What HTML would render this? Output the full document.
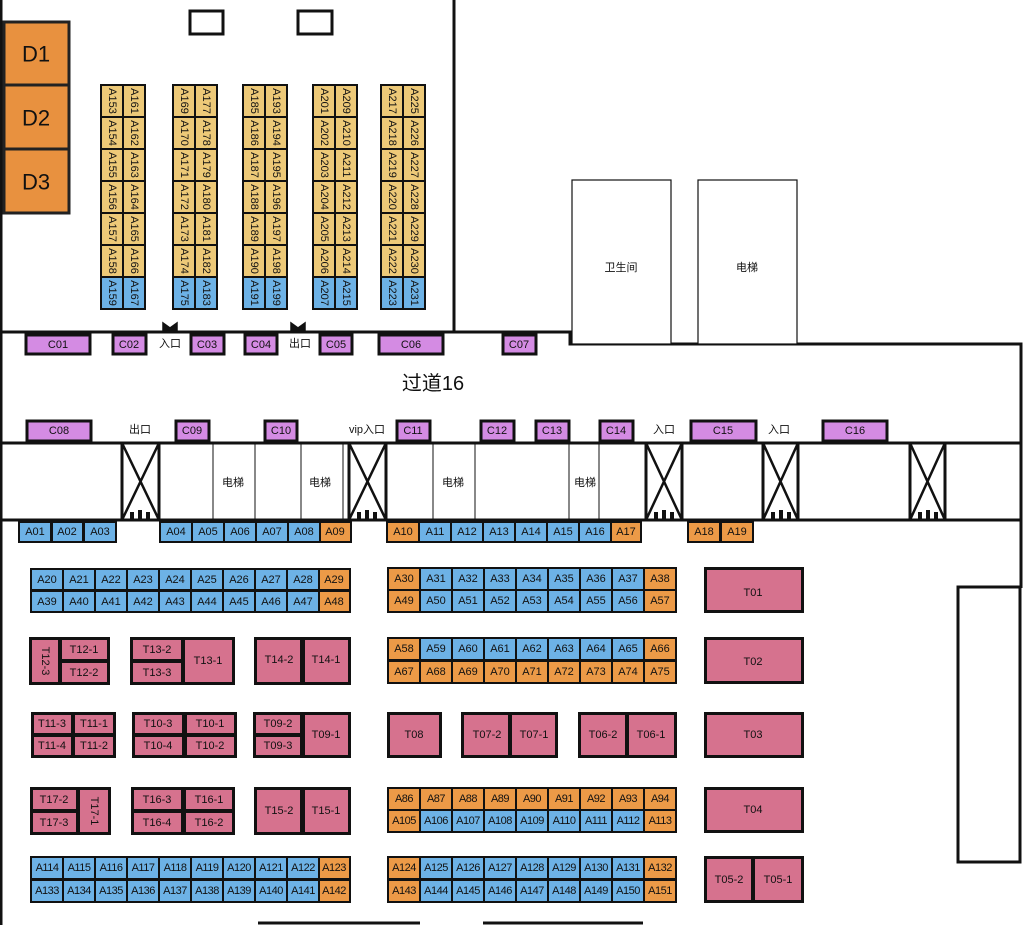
<!DOCTYPE html>
<html><head><meta charset="utf-8"><style>
html,body{margin:0;padding:0;background:#fff;}
svg{display:block}
text{font-family:"Liberation Sans","Noto Sans CJK SC",sans-serif;font-size:11px;fill:#111;text-anchor:middle;dominant-baseline:central}
.b{fill:#6DB2E6}.o{fill:#EC9A47}.y{fill:#EDC978}.p{fill:#D48BE3;stroke:#111;stroke-width:3}.k{fill:#D6728E}.d{fill:#E8913F;stroke:#222;stroke-width:3}
.w{fill:#fff;stroke:#111;stroke-width:1.2}
.s{fill:#fff;stroke:#111;stroke-width:3}
.l{stroke:#111;stroke-width:3;fill:none}
.t{stroke:#111;stroke-width:1;fill:none}
.cn{font-size:11px}
.r{font-size:12px}
</style></head><body>
<svg width="1024" height="925" viewBox="0 0 1024 925" xmlns="http://www.w3.org/2000/svg">
<!-- walls -->
<path class="l" d="M1 0V925 M454 0V332 M0 332H570V344H1021V588"/>
<path class="l" d="M0 443H1021 M0 520H1021"/>
<rect x="958" y="587" width="62" height="275" class="s"/>
<path class="l" d="M258 923H420 M483 923H643"/>
<rect x="190" y="11" width="33" height="23" class="s" stroke-width="2.5"/>
<rect x="298" y="11" width="34" height="23" class="s" stroke-width="2.5"/>
<rect x="572" y="180" width="99" height="164" class="w"/><text x="621" y="268">卫生间</text>
<rect x="698" y="180" width="99" height="164" class="w"/><text x="747" y="268">电梯</text>
<!-- D -->
<rect x="4" y="22" width="65" height="63" class="d"/><text x="36" y="54" style="font-size:22px">D1</text>
<rect x="4" y="85" width="65" height="64" class="d"/><text x="36" y="118" style="font-size:22px">D2</text>
<rect x="4" y="149" width="65" height="64" class="d"/><text x="36" y="182" style="font-size:22px">D3</text>
<!-- top columns -->
<g id="cols">
<rect x="100" y="84" width="46" height="226" fill="#111"/>
<rect x="172" y="84" width="46" height="226" fill="#111"/>
<rect x="242" y="84" width="46" height="226" fill="#111"/>
<rect x="312" y="84" width="46" height="226" fill="#111"/>
<rect x="380" y="84" width="46" height="226" fill="#111"/>
</g>
<g class="r">
<!-- col 1 -->
<rect x="102" y="86" width="20" height="30" class="y"/><text transform="translate(112,101) rotate(90)">A153</text>
<rect x="124" y="86" width="20" height="30" class="y"/><text transform="translate(134,101) rotate(90)">A161</text>
<rect x="102" y="118" width="20" height="30" class="y"/><text transform="translate(112,133) rotate(90)">A154</text>
<rect x="124" y="118" width="20" height="30" class="y"/><text transform="translate(134,133) rotate(90)">A162</text>
<rect x="102" y="150" width="20" height="30" class="y"/><text transform="translate(112,165) rotate(90)">A155</text>
<rect x="124" y="150" width="20" height="30" class="y"/><text transform="translate(134,165) rotate(90)">A163</text>
<rect x="102" y="182" width="20" height="30" class="y"/><text transform="translate(112,197) rotate(90)">A156</text>
<rect x="124" y="182" width="20" height="30" class="y"/><text transform="translate(134,197) rotate(90)">A164</text>
<rect x="102" y="214" width="20" height="30" class="y"/><text transform="translate(112,229) rotate(90)">A157</text>
<rect x="124" y="214" width="20" height="30" class="y"/><text transform="translate(134,229) rotate(90)">A165</text>
<rect x="102" y="246" width="20" height="30" class="y"/><text transform="translate(112,261) rotate(90)">A158</text>
<rect x="124" y="246" width="20" height="30" class="y"/><text transform="translate(134,261) rotate(90)">A166</text>
<rect x="102" y="278" width="20" height="30" class="b"/><text transform="translate(112,293) rotate(90)">A159</text>
<rect x="124" y="278" width="20" height="30" class="b"/><text transform="translate(134,293) rotate(90)">A167</text>
<!-- col 2 -->
<rect x="174" y="86" width="20" height="30" class="y"/><text transform="translate(184,101) rotate(90)">A169</text>
<rect x="196" y="86" width="20" height="30" class="y"/><text transform="translate(206,101) rotate(90)">A177</text>
<rect x="174" y="118" width="20" height="30" class="y"/><text transform="translate(184,133) rotate(90)">A170</text>
<rect x="196" y="118" width="20" height="30" class="y"/><text transform="translate(206,133) rotate(90)">A178</text>
<rect x="174" y="150" width="20" height="30" class="y"/><text transform="translate(184,165) rotate(90)">A171</text>
<rect x="196" y="150" width="20" height="30" class="y"/><text transform="translate(206,165) rotate(90)">A179</text>
<rect x="174" y="182" width="20" height="30" class="y"/><text transform="translate(184,197) rotate(90)">A172</text>
<rect x="196" y="182" width="20" height="30" class="y"/><text transform="translate(206,197) rotate(90)">A180</text>
<rect x="174" y="214" width="20" height="30" class="y"/><text transform="translate(184,229) rotate(90)">A173</text>
<rect x="196" y="214" width="20" height="30" class="y"/><text transform="translate(206,229) rotate(90)">A181</text>
<rect x="174" y="246" width="20" height="30" class="y"/><text transform="translate(184,261) rotate(90)">A174</text>
<rect x="196" y="246" width="20" height="30" class="y"/><text transform="translate(206,261) rotate(90)">A182</text>
<rect x="174" y="278" width="20" height="30" class="b"/><text transform="translate(184,293) rotate(90)">A175</text>
<rect x="196" y="278" width="20" height="30" class="b"/><text transform="translate(206,293) rotate(90)">A183</text>
<!-- col 3 -->
<rect x="244" y="86" width="20" height="30" class="y"/><text transform="translate(254,101) rotate(90)">A185</text>
<rect x="266" y="86" width="20" height="30" class="y"/><text transform="translate(276,101) rotate(90)">A193</text>
<rect x="244" y="118" width="20" height="30" class="y"/><text transform="translate(254,133) rotate(90)">A186</text>
<rect x="266" y="118" width="20" height="30" class="y"/><text transform="translate(276,133) rotate(90)">A194</text>
<rect x="244" y="150" width="20" height="30" class="y"/><text transform="translate(254,165) rotate(90)">A187</text>
<rect x="266" y="150" width="20" height="30" class="y"/><text transform="translate(276,165) rotate(90)">A195</text>
<rect x="244" y="182" width="20" height="30" class="y"/><text transform="translate(254,197) rotate(90)">A188</text>
<rect x="266" y="182" width="20" height="30" class="y"/><text transform="translate(276,197) rotate(90)">A196</text>
<rect x="244" y="214" width="20" height="30" class="y"/><text transform="translate(254,229) rotate(90)">A189</text>
<rect x="266" y="214" width="20" height="30" class="y"/><text transform="translate(276,229) rotate(90)">A197</text>
<rect x="244" y="246" width="20" height="30" class="y"/><text transform="translate(254,261) rotate(90)">A190</text>
<rect x="266" y="246" width="20" height="30" class="y"/><text transform="translate(276,261) rotate(90)">A198</text>
<rect x="244" y="278" width="20" height="30" class="b"/><text transform="translate(254,293) rotate(90)">A191</text>
<rect x="266" y="278" width="20" height="30" class="b"/><text transform="translate(276,293) rotate(90)">A199</text>
<!-- col 4 -->
<rect x="314" y="86" width="20" height="30" class="y"/><text transform="translate(324,101) rotate(90)">A201</text>
<rect x="336" y="86" width="20" height="30" class="y"/><text transform="translate(346,101) rotate(90)">A209</text>
<rect x="314" y="118" width="20" height="30" class="y"/><text transform="translate(324,133) rotate(90)">A202</text>
<rect x="336" y="118" width="20" height="30" class="y"/><text transform="translate(346,133) rotate(90)">A210</text>
<rect x="314" y="150" width="20" height="30" class="y"/><text transform="translate(324,165) rotate(90)">A203</text>
<rect x="336" y="150" width="20" height="30" class="y"/><text transform="translate(346,165) rotate(90)">A211</text>
<rect x="314" y="182" width="20" height="30" class="y"/><text transform="translate(324,197) rotate(90)">A204</text>
<rect x="336" y="182" width="20" height="30" class="y"/><text transform="translate(346,197) rotate(90)">A212</text>
<rect x="314" y="214" width="20" height="30" class="y"/><text transform="translate(324,229) rotate(90)">A205</text>
<rect x="336" y="214" width="20" height="30" class="y"/><text transform="translate(346,229) rotate(90)">A213</text>
<rect x="314" y="246" width="20" height="30" class="y"/><text transform="translate(324,261) rotate(90)">A206</text>
<rect x="336" y="246" width="20" height="30" class="y"/><text transform="translate(346,261) rotate(90)">A214</text>
<rect x="314" y="278" width="20" height="30" class="b"/><text transform="translate(324,293) rotate(90)">A207</text>
<rect x="336" y="278" width="20" height="30" class="b"/><text transform="translate(346,293) rotate(90)">A215</text>
<!-- col 5 -->
<rect x="382" y="86" width="20" height="30" class="y"/><text transform="translate(392,101) rotate(90)">A217</text>
<rect x="404" y="86" width="20" height="30" class="y"/><text transform="translate(414,101) rotate(90)">A225</text>
<rect x="382" y="118" width="20" height="30" class="y"/><text transform="translate(392,133) rotate(90)">A218</text>
<rect x="404" y="118" width="20" height="30" class="y"/><text transform="translate(414,133) rotate(90)">A226</text>
<rect x="382" y="150" width="20" height="30" class="y"/><text transform="translate(392,165) rotate(90)">A219</text>
<rect x="404" y="150" width="20" height="30" class="y"/><text transform="translate(414,165) rotate(90)">A227</text>
<rect x="382" y="182" width="20" height="30" class="y"/><text transform="translate(392,197) rotate(90)">A220</text>
<rect x="404" y="182" width="20" height="30" class="y"/><text transform="translate(414,197) rotate(90)">A228</text>
<rect x="382" y="214" width="20" height="30" class="y"/><text transform="translate(392,229) rotate(90)">A221</text>
<rect x="404" y="214" width="20" height="30" class="y"/><text transform="translate(414,229) rotate(90)">A229</text>
<rect x="382" y="246" width="20" height="30" class="y"/><text transform="translate(392,261) rotate(90)">A222</text>
<rect x="404" y="246" width="20" height="30" class="y"/><text transform="translate(414,261) rotate(90)">A230</text>
<rect x="382" y="278" width="20" height="30" class="b"/><text transform="translate(392,293) rotate(90)">A223</text>
<rect x="404" y="278" width="20" height="30" class="b"/><text transform="translate(414,293) rotate(90)">A231</text>
</g>
<!-- doors -->
<path d="M163 332V323L170 328L177 323V332Z M168 332V329 M172 332V329" fill="#111" stroke="#111" stroke-width="1.5"/>
<path d="M291 332V323L298 328L305 323V332Z" fill="#111" stroke="#111" stroke-width="1.5"/>
<!-- C row1 -->
<rect x="26" y="335" width="64" height="19" class="p"/><text x="58" y="345">C01</text>
<rect x="113" y="335" width="33" height="19" class="p"/><text x="129" y="345">C02</text>
<text x="170" y="344">入口</text>
<rect x="191" y="335" width="33" height="19" class="p"/><text x="207" y="345">C03</text>
<rect x="245" y="335" width="32" height="19" class="p"/><text x="261" y="345">C04</text>
<text x="300" y="344">出口</text>
<rect x="320" y="335" width="32" height="19" class="p"/><text x="336" y="345">C05</text>
<rect x="379" y="335" width="64" height="19" class="p"/><text x="411" y="345">C06</text>
<rect x="503" y="335" width="33" height="19" class="p"/><text x="519" y="345">C07</text>
<text x="433" y="384" style="font-size:20px">过道16</text>
<!-- C row2 -->
<rect x="27" y="421" width="64" height="20" class="p"/><text x="59" y="431">C08</text>
<text x="140" y="430">出口</text>
<rect x="176" y="421" width="33" height="20" class="p"/><text x="192" y="431">C09</text>
<rect x="265" y="421" width="32" height="20" class="p"/><text x="281" y="431">C10</text>
<text x="367" y="430">vip入口</text>
<rect x="397" y="421" width="33" height="20" class="p"/><text x="413" y="431">C11</text>
<rect x="481" y="421" width="33" height="20" class="p"/><text x="497" y="431">C12</text>
<rect x="536" y="421" width="33" height="20" class="p"/><text x="552" y="431">C13</text>
<rect x="600" y="421" width="33" height="20" class="p"/><text x="616" y="431">C14</text>
<text x="664" y="430">入口</text>
<rect x="691" y="421" width="65" height="20" class="p"/><text x="723" y="431">C15</text>
<text x="779" y="430">入口</text>
<rect x="823" y="421" width="64" height="20" class="p"/><text x="855" y="431">C16</text>
<!-- elevators in corridor -->
<path class="t" d="M213 443V520 M255 443V520 M301 443V520 M343 443V520 M433 443V520 M475 443V520 M569 443V520 M599 443V520"/>
<text x="233" y="483">电梯</text><text x="320" y="483">电梯</text><text x="453" y="483">电梯</text><text x="585" y="483">电梯</text>
<!-- stairs -->
<g stroke="#111" fill="none" stroke-width="3">
<rect x="122" y="443" width="37" height="77" fill="#fff"/><path d="M122 443L159 520M159 443L122 520" stroke-width="2.5"/>
<rect x="349" y="443" width="37" height="77" fill="#fff"/><path d="M349 443L386 520M386 443L349 520" stroke-width="2.5"/>
<rect x="646" y="443" width="36" height="77" fill="#fff"/><path d="M646 443L682 520M682 443L646 520" stroke-width="2.5"/>
<rect x="763" y="443" width="35" height="77" fill="#fff"/><path d="M763 443L798 520M798 443L763 520" stroke-width="2.5"/>
<rect x="910" y="443" width="35" height="77" fill="#fff"/><path d="M910 443L945 520M945 443L910 520" stroke-width="2.5"/>
</g>
<g fill="#111">
<rect x="130" y="512" width="4" height="7"/><rect x="138" y="510" width="4" height="9"/><rect x="146" y="512" width="4" height="7"/>
<rect x="357" y="512" width="4" height="7"/><rect x="365" y="510" width="4" height="9"/><rect x="373" y="512" width="4" height="7"/>
<rect x="654" y="512" width="4" height="7"/><rect x="662" y="510" width="4" height="9"/><rect x="670" y="512" width="4" height="7"/>
<rect x="771" y="512" width="4" height="7"/><rect x="779" y="510" width="4" height="9"/><rect x="787" y="512" width="4" height="7"/>
<rect x="918" y="512" width="4" height="7"/><rect x="926" y="510" width="4" height="9"/><rect x="934" y="512" width="4" height="7"/>
</g>
<!-- A01 row -->
<rect x="18" y="521" width="99" height="22" fill="#111"/>
<rect x="20" y="523" width="30" height="18" class="b"/><text x="35" y="532">A01</text>
<rect x="53" y="523" width="29" height="18" class="b"/><text x="67" y="532">A02</text>
<rect x="85" y="523" width="30" height="18" class="b"/><text x="100" y="532">A03</text>
<rect x="159" y="521" width="193" height="22" fill="#111"/>
<rect x="161" y="523" width="30" height="18" class="b"/><text x="176" y="532">A04</text>
<rect x="193" y="523" width="30" height="18" class="b"/><text x="208" y="532">A05</text>
<rect x="225" y="523" width="30" height="18" class="b"/><text x="240" y="532">A06</text>
<rect x="257" y="523" width="30" height="18" class="b"/><text x="272" y="532">A07</text>
<rect x="289" y="523" width="30" height="18" class="b"/><text x="304" y="532">A08</text>
<rect x="321" y="523" width="29" height="18" class="o"/><text x="335" y="532">A09</text>
<rect x="386" y="521" width="256" height="22" fill="#111"/>
<rect x="388" y="523" width="30" height="18" class="o"/><text x="403" y="532">A10</text>
<rect x="420" y="523" width="30" height="18" class="b"/><text x="435" y="532">A11</text>
<rect x="452" y="523" width="30" height="18" class="b"/><text x="467" y="532">A12</text>
<rect x="484" y="523" width="30" height="18" class="b"/><text x="499" y="532">A13</text>
<rect x="516" y="523" width="30" height="18" class="b"/><text x="531" y="532">A14</text>
<rect x="548" y="523" width="30" height="18" class="b"/><text x="563" y="532">A15</text>
<rect x="580" y="523" width="30" height="18" class="b"/><text x="595" y="532">A16</text>
<rect x="612" y="523" width="28" height="18" class="o"/><text x="626" y="532">A17</text>
<rect x="687" y="521" width="67" height="22" fill="#111"/>
<rect x="689" y="523" width="30" height="18" class="o"/><text x="704" y="532">A18</text>
<rect x="722" y="523" width="30" height="18" class="o"/><text x="737" y="532">A19</text>

<!-- left big rows -->
<rect x="30" y="568" width="321" height="45" fill="#111"/>
<g>
<rect x="32" y="570" width="30" height="19" class="b"/><text x="47" y="580">A20</text>
<rect x="64" y="570" width="30" height="19" class="b"/><text x="79" y="580">A21</text>
<rect x="96" y="570" width="30" height="19" class="b"/><text x="111" y="580">A22</text>
<rect x="128" y="570" width="30" height="19" class="b"/><text x="143" y="580">A23</text>
<rect x="160" y="570" width="30" height="19" class="b"/><text x="175" y="580">A24</text>
<rect x="192" y="570" width="30" height="19" class="b"/><text x="207" y="580">A25</text>
<rect x="224" y="570" width="30" height="19" class="b"/><text x="239" y="580">A26</text>
<rect x="256" y="570" width="30" height="19" class="b"/><text x="271" y="580">A27</text>
<rect x="288" y="570" width="30" height="19" class="b"/><text x="303" y="580">A28</text>
<rect x="320" y="570" width="29" height="19" class="o"/><text x="334" y="580">A29</text>
<rect x="32" y="592" width="30" height="19" class="b"/><text x="47" y="602">A39</text>
<rect x="64" y="592" width="30" height="19" class="b"/><text x="79" y="602">A40</text>
<rect x="96" y="592" width="30" height="19" class="b"/><text x="111" y="602">A41</text>
<rect x="128" y="592" width="30" height="19" class="b"/><text x="143" y="602">A42</text>
<rect x="160" y="592" width="30" height="19" class="b"/><text x="175" y="602">A43</text>
<rect x="192" y="592" width="30" height="19" class="b"/><text x="207" y="602">A44</text>
<rect x="224" y="592" width="30" height="19" class="b"/><text x="239" y="602">A45</text>
<rect x="256" y="592" width="30" height="19" class="b"/><text x="271" y="602">A46</text>
<rect x="288" y="592" width="30" height="19" class="b"/><text x="303" y="602">A47</text>
<rect x="320" y="592" width="29" height="19" class="o"/><text x="334" y="602">A48</text>
</g>
<rect x="30" y="856" width="321" height="47" fill="#111"/>
<g style="letter-spacing:-0.5px">
<rect x="32" y="858" width="30" height="20" class="b"/><text x="47" y="868">A114</text>
<rect x="64" y="858" width="30" height="20" class="b"/><text x="79" y="868">A115</text>
<rect x="96" y="858" width="30" height="20" class="b"/><text x="111" y="868">A116</text>
<rect x="128" y="858" width="30" height="20" class="b"/><text x="143" y="868">A117</text>
<rect x="160" y="858" width="30" height="20" class="b"/><text x="175" y="868">A118</text>
<rect x="192" y="858" width="30" height="20" class="b"/><text x="207" y="868">A119</text>
<rect x="224" y="858" width="30" height="20" class="b"/><text x="239" y="868">A120</text>
<rect x="256" y="858" width="30" height="20" class="b"/><text x="271" y="868">A121</text>
<rect x="288" y="858" width="30" height="20" class="b"/><text x="303" y="868">A122</text>
<rect x="320" y="858" width="29" height="20" class="o"/><text x="334" y="868">A123</text>
<rect x="32" y="881" width="30" height="20" class="b"/><text x="47" y="891">A133</text>
<rect x="64" y="881" width="30" height="20" class="b"/><text x="79" y="891">A134</text>
<rect x="96" y="881" width="30" height="20" class="b"/><text x="111" y="891">A135</text>
<rect x="128" y="881" width="30" height="20" class="b"/><text x="143" y="891">A136</text>
<rect x="160" y="881" width="30" height="20" class="b"/><text x="175" y="891">A137</text>
<rect x="192" y="881" width="30" height="20" class="b"/><text x="207" y="891">A138</text>
<rect x="224" y="881" width="30" height="20" class="b"/><text x="239" y="891">A139</text>
<rect x="256" y="881" width="30" height="20" class="b"/><text x="271" y="891">A140</text>
<rect x="288" y="881" width="30" height="20" class="b"/><text x="303" y="891">A141</text>
<rect x="320" y="881" width="29" height="20" class="o"/><text x="334" y="891">A142</text>
</g>

<!-- right-middle rows -->
<rect x="387" y="567" width="290" height="46" fill="#111"/>
<rect x="389" y="569" width="30" height="20" class="o"/><text x="404" y="579">A30</text>
<rect x="421" y="569" width="30" height="20" class="b"/><text x="436" y="579">A31</text>
<rect x="453" y="569" width="30" height="20" class="b"/><text x="468" y="579">A32</text>
<rect x="485" y="569" width="30" height="20" class="b"/><text x="500" y="579">A33</text>
<rect x="517" y="569" width="30" height="20" class="b"/><text x="532" y="579">A34</text>
<rect x="549" y="569" width="30" height="20" class="b"/><text x="564" y="579">A35</text>
<rect x="581" y="569" width="30" height="20" class="b"/><text x="596" y="579">A36</text>
<rect x="613" y="569" width="30" height="20" class="b"/><text x="628" y="579">A37</text>
<rect x="645" y="569" width="30" height="20" class="o"/><text x="660" y="579">A38</text>
<rect x="389" y="591" width="30" height="20" class="o"/><text x="404" y="601">A49</text>
<rect x="421" y="591" width="30" height="20" class="b"/><text x="436" y="601">A50</text>
<rect x="453" y="591" width="30" height="20" class="b"/><text x="468" y="601">A51</text>
<rect x="485" y="591" width="30" height="20" class="b"/><text x="500" y="601">A52</text>
<rect x="517" y="591" width="30" height="20" class="b"/><text x="532" y="601">A53</text>
<rect x="549" y="591" width="30" height="20" class="b"/><text x="564" y="601">A54</text>
<rect x="581" y="591" width="30" height="20" class="b"/><text x="596" y="601">A55</text>
<rect x="613" y="591" width="30" height="20" class="b"/><text x="628" y="601">A56</text>
<rect x="645" y="591" width="30" height="20" class="o"/><text x="660" y="601">A57</text>

<rect x="387" y="637" width="290" height="47" fill="#111"/>
<rect x="389" y="639" width="30" height="20" class="o"/><text x="404" y="649">A58</text>
<rect x="421" y="639" width="30" height="20" class="b"/><text x="436" y="649">A59</text>
<rect x="453" y="639" width="30" height="20" class="b"/><text x="468" y="649">A60</text>
<rect x="485" y="639" width="30" height="20" class="b"/><text x="500" y="649">A61</text>
<rect x="517" y="639" width="30" height="20" class="b"/><text x="532" y="649">A62</text>
<rect x="549" y="639" width="30" height="20" class="b"/><text x="564" y="649">A63</text>
<rect x="581" y="639" width="30" height="20" class="b"/><text x="596" y="649">A64</text>
<rect x="613" y="639" width="30" height="20" class="b"/><text x="628" y="649">A65</text>
<rect x="645" y="639" width="30" height="20" class="o"/><text x="660" y="649">A66</text>
<rect x="389" y="662" width="30" height="20" class="o"/><text x="404" y="672">A67</text>
<rect x="421" y="662" width="30" height="20" class="o"/><text x="436" y="672">A68</text>
<rect x="453" y="662" width="30" height="20" class="o"/><text x="468" y="672">A69</text>
<rect x="485" y="662" width="30" height="20" class="o"/><text x="500" y="672">A70</text>
<rect x="517" y="662" width="30" height="20" class="o"/><text x="532" y="672">A71</text>
<rect x="549" y="662" width="30" height="20" class="o"/><text x="564" y="672">A72</text>
<rect x="581" y="662" width="30" height="20" class="o"/><text x="596" y="672">A73</text>
<rect x="613" y="662" width="30" height="20" class="o"/><text x="628" y="672">A74</text>
<rect x="645" y="662" width="30" height="20" class="o"/><text x="660" y="672">A75</text>

<rect x="387" y="787" width="290" height="46" fill="#111"/>
<g style="letter-spacing:-0.5px">
<rect x="389" y="789" width="30" height="20" class="o"/><text x="404" y="799">A86</text>
<rect x="421" y="789" width="30" height="20" class="o"/><text x="436" y="799">A87</text>
<rect x="453" y="789" width="30" height="20" class="o"/><text x="468" y="799">A88</text>
<rect x="485" y="789" width="30" height="20" class="o"/><text x="500" y="799">A89</text>
<rect x="517" y="789" width="30" height="20" class="o"/><text x="532" y="799">A90</text>
<rect x="549" y="789" width="30" height="20" class="o"/><text x="564" y="799">A91</text>
<rect x="581" y="789" width="30" height="20" class="o"/><text x="596" y="799">A92</text>
<rect x="613" y="789" width="30" height="20" class="o"/><text x="628" y="799">A93</text>
<rect x="645" y="789" width="30" height="20" class="o"/><text x="660" y="799">A94</text>
<rect x="389" y="811" width="30" height="20" class="o"/><text x="404" y="821">A105</text>
<rect x="421" y="811" width="30" height="20" class="b"/><text x="436" y="821">A106</text>
<rect x="453" y="811" width="30" height="20" class="b"/><text x="468" y="821">A107</text>
<rect x="485" y="811" width="30" height="20" class="b"/><text x="500" y="821">A108</text>
<rect x="517" y="811" width="30" height="20" class="b"/><text x="532" y="821">A109</text>
<rect x="549" y="811" width="30" height="20" class="b"/><text x="564" y="821">A110</text>
<rect x="581" y="811" width="30" height="20" class="b"/><text x="596" y="821">A111</text>
<rect x="613" y="811" width="30" height="20" class="b"/><text x="628" y="821">A112</text>
<rect x="645" y="811" width="30" height="20" class="o"/><text x="660" y="821">A113</text>
</g>
<rect x="387" y="856" width="290" height="47" fill="#111"/>
<g style="letter-spacing:-0.5px">
<rect x="389" y="858" width="30" height="20" class="o"/><text x="404" y="868">A124</text>
<rect x="421" y="858" width="30" height="20" class="b"/><text x="436" y="868">A125</text>
<rect x="453" y="858" width="30" height="20" class="b"/><text x="468" y="868">A126</text>
<rect x="485" y="858" width="30" height="20" class="b"/><text x="500" y="868">A127</text>
<rect x="517" y="858" width="30" height="20" class="b"/><text x="532" y="868">A128</text>
<rect x="549" y="858" width="30" height="20" class="b"/><text x="564" y="868">A129</text>
<rect x="581" y="858" width="30" height="20" class="b"/><text x="596" y="868">A130</text>
<rect x="613" y="858" width="30" height="20" class="b"/><text x="628" y="868">A131</text>
<rect x="645" y="858" width="30" height="20" class="o"/><text x="660" y="868">A132</text>
<rect x="389" y="881" width="30" height="20" class="o"/><text x="404" y="891">A143</text>
<rect x="421" y="881" width="30" height="20" class="b"/><text x="436" y="891">A144</text>
<rect x="453" y="881" width="30" height="20" class="b"/><text x="468" y="891">A145</text>
<rect x="485" y="881" width="30" height="20" class="b"/><text x="500" y="891">A146</text>
<rect x="517" y="881" width="30" height="20" class="b"/><text x="532" y="891">A147</text>
<rect x="549" y="881" width="30" height="20" class="b"/><text x="564" y="891">A148</text>
<rect x="581" y="881" width="30" height="20" class="b"/><text x="596" y="891">A149</text>
<rect x="613" y="881" width="30" height="20" class="b"/><text x="628" y="891">A150</text>
<rect x="645" y="881" width="30" height="20" class="o"/><text x="660" y="891">A151</text>
</g>

<!-- T blocks -->
<rect x="29" y="637" width="81" height="48" fill="#111"/>
<rect x="32" y="640" width="26" height="42" class="k"/><text transform="translate(45,661) rotate(90)">T12-3</text>
<rect x="62" y="640" width="45" height="19" class="k"/><text x="84" y="650">T12-1</text>
<rect x="62" y="663" width="45" height="19" class="k"/><text x="84" y="673">T12-2</text>
<rect x="130" y="637" width="105" height="48" fill="#111"/>
<rect x="133" y="640" width="48" height="19" class="k"/><text x="157" y="650">T13-2</text>
<rect x="133" y="663" width="48" height="19" class="k"/><text x="157" y="673">T13-3</text>
<rect x="185" y="640" width="47" height="42" class="k"/><text x="208" y="661">T13-1</text>
<rect x="254" y="637" width="97" height="48" fill="#111"/>
<rect x="257" y="640" width="43" height="42" class="k"/><text x="279" y="660">T14-2</text>
<rect x="305" y="640" width="43" height="42" class="k"/><text x="326" y="660">T14-1</text>

<rect x="31" y="712" width="85" height="46" fill="#111"/>
<rect x="34" y="715" width="37" height="18" class="k"/><text x="52" y="724">T11-3</text>
<rect x="75" y="715" width="38" height="18" class="k"/><text x="94" y="724">T11-1</text>
<rect x="34" y="737" width="37" height="18" class="k"/><text x="52" y="746">T11-4</text>
<rect x="75" y="737" width="38" height="18" class="k"/><text x="94" y="746">T11-2</text>
<rect x="132" y="712" width="105" height="46" fill="#111"/>
<rect x="135" y="715" width="47" height="18" class="k"/><text x="158" y="724">T10-3</text>
<rect x="187" y="715" width="47" height="18" class="k"/><text x="210" y="724">T10-1</text>
<rect x="135" y="737" width="47" height="18" class="k"/><text x="158" y="746">T10-4</text>
<rect x="187" y="737" width="47" height="18" class="k"/><text x="210" y="746">T10-2</text>
<rect x="253" y="712" width="98" height="46" fill="#111"/>
<rect x="256" y="715" width="44" height="18" class="k"/><text x="278" y="724">T09-2</text>
<rect x="256" y="737" width="44" height="18" class="k"/><text x="278" y="746">T09-3</text>
<rect x="305" y="715" width="43" height="40" class="k"/><text x="326" y="735">T09-1</text>

<rect x="30" y="787" width="81" height="48" fill="#111"/>
<rect x="33" y="790" width="43" height="19" class="k"/><text x="54" y="800">T17-2</text>
<rect x="33" y="813" width="43" height="19" class="k"/><text x="54" y="823">T17-3</text>
<rect x="80" y="790" width="28" height="42" class="k"/><text transform="translate(94,811) rotate(90)">T17-1</text>
<rect x="131" y="787" width="104" height="48" fill="#111"/>
<rect x="134" y="790" width="47" height="19" class="k"/><text x="157" y="800">T16-3</text>
<rect x="186" y="790" width="46" height="19" class="k"/><text x="209" y="800">T16-1</text>
<rect x="134" y="813" width="47" height="19" class="k"/><text x="157" y="823">T16-4</text>
<rect x="186" y="813" width="46" height="19" class="k"/><text x="209" y="823">T16-2</text>
<rect x="254" y="787" width="97" height="48" fill="#111"/>
<rect x="257" y="790" width="43" height="42" class="k"/><text x="279" y="811">T15-2</text>
<rect x="305" y="790" width="43" height="42" class="k"/><text x="326" y="811">T15-1</text>

<rect x="387" y="712" width="55" height="46" fill="#111"/>
<rect x="390" y="715" width="49" height="40" class="k"/><text x="414" y="735">T08</text>
<rect x="461" y="712" width="97" height="46" fill="#111"/>
<rect x="464" y="715" width="44" height="40" class="k"/><text x="487" y="735">T07-2</text>
<rect x="512" y="715" width="43" height="40" class="k"/><text x="534" y="735">T07-1</text>
<rect x="578" y="712" width="99" height="46" fill="#111"/>
<rect x="581" y="715" width="44" height="40" class="k"/><text x="603" y="735">T06-2</text>
<rect x="629" y="715" width="45" height="40" class="k"/><text x="651" y="735">T06-1</text>

<rect x="704" y="567" width="100" height="46" fill="#111"/>
<rect x="707" y="570" width="94" height="40" class="k"/><text x="753" y="593">T01</text>
<rect x="704" y="637" width="100" height="47" fill="#111"/>
<rect x="707" y="640" width="94" height="41" class="k"/><text x="753" y="662">T02</text>
<rect x="704" y="712" width="100" height="46" fill="#111"/>
<rect x="707" y="715" width="94" height="40" class="k"/><text x="753" y="735">T03</text>
<rect x="704" y="787" width="100" height="46" fill="#111"/>
<rect x="707" y="790" width="94" height="40" class="k"/><text x="753" y="810">T04</text>
<rect x="704" y="856" width="100" height="47" fill="#111"/>
<rect x="707" y="859" width="44" height="41" class="k"/><text x="729" y="880">T05-2</text>
<rect x="755" y="859" width="46" height="41" class="k"/><text x="778" y="880">T05-1</text>
</svg>
</body></html>
